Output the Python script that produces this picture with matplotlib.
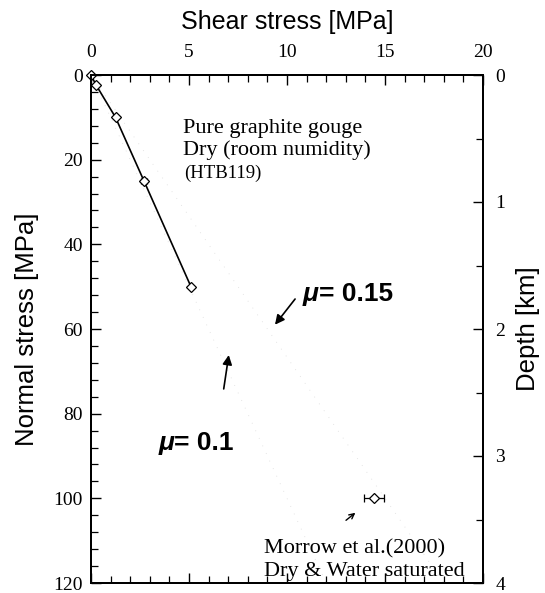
import matplotlib
matplotlib.use("Agg")
import matplotlib.pyplot as plt
from matplotlib.ticker import MultipleLocator

# Data
shear_htb = [0.0, 0.25, 1.25, 2.7, 5.1]
normal_htb = [0.0, 2.3, 10.0, 25.0, 50.0]
shear_err_htb = [0.0, 0.0, 0.0, 0.15, 0.0]

morrow_shear = [14.45]
morrow_normal = [100.0]
morrow_err = [0.5]

mu_values = [0.1, 0.15]
normal_line = [0.0, 120.0]

W, H = 545, 593
fig = plt.figure(figsize=(W / 100, H / 100), dpi=100)
ax = fig.add_axes([91 / W, 1 - 583 / H, (483 - 91) / W, (583 - 75) / H])

serif = "Liberation Serif"
sans = "Liberation Sans"

# faint friction lines
for mu in mu_values:
    ax.plot([mu * s for s in normal_line], normal_line, linestyle=(0, (1, 9)),
            color="#dcdcdc", linewidth=0.6, zorder=1)

ax.errorbar(shear_htb, normal_htb, xerr=shear_err_htb, color="black", linewidth=1.2,
            marker="D", markersize=5, markerfacecolor="white", markeredgecolor="black",
            markeredgewidth=0.9, capsize=2, elinewidth=0.8, zorder=3, clip_on=False)
ax.errorbar(morrow_shear, morrow_normal, xerr=morrow_err, color="black", linestyle="none",
            marker="D", markersize=5, markerfacecolor="white", markeredgecolor="black",
            markeredgewidth=0.9, capsize=3, elinewidth=0.9, zorder=3)

ax.set_xlim(0, 20)
ax.set_ylim(120, 0)

ax.xaxis.set_major_locator(MultipleLocator(5))
ax.xaxis.set_minor_locator(MultipleLocator(1))
ax.yaxis.set_major_locator(MultipleLocator(20))
ax.yaxis.set_minor_locator(MultipleLocator(4))

ax.tick_params(axis="x", which="both", direction="in", top=True, bottom=True,
               labeltop=True, labelbottom=False)
ax.tick_params(axis="y", which="both", direction="in", left=True, right=False)
ax.tick_params(which="major", length=7, width=1.0, labelsize=14, pad=6)
ax.tick_params(axis="x", which="major", pad=10)
ax.tick_params(which="minor", length=5, width=0.9)
for lab in ax.get_xticklabels() + ax.get_yticklabels():
    lab.set_fontfamily(serif)

ax.set_xlabel("Shear stress [MPa]", fontsize=18, fontfamily=sans, labelpad=11)
ax.xaxis.set_label_position("top")
ax.set_ylabel("Normal stress [MPa]", fontsize=18.5, fontfamily=sans, labelpad=10)

for sp in ax.spines.values():
    sp.set_linewidth(1.4)

# Depth axis
ax2 = ax.twinx()
ax2.set_ylim(4, 0)
ax2.yaxis.set_major_locator(MultipleLocator(1))
ax2.yaxis.set_minor_locator(MultipleLocator(0.5))
ax2.tick_params(axis="y", which="both", direction="in")
ax2.tick_params(which="major", length=7, width=1.0, labelsize=14, pad=9)
ax2.tick_params(which="minor", length=5, width=0.9)
for lab in ax2.get_yticklabels():
    lab.set_fontfamily(serif)
ax2.set_ylabel("Depth [km]", fontsize=18.5, fontfamily=sans, labelpad=8)
for sp in ax2.spines.values():
    sp.set_linewidth(1.4)

# annotations
ax.text(4.7, 15.2, "Pure graphite gouge\nDry (room numidity)", fontsize=16,
        fontfamily=serif, va="center", ha="left", linespacing=1.2)
ax.text(4.75, 23.3, "(HTB119)", fontsize=13.5, fontfamily=serif, va="center", ha="left")


def mu_label(x, y, rest):
    t = ax.text(x, y, "\u03bc", fontsize=19, fontweight="bold", fontstyle="italic",
                fontfamily=sans, va="baseline", ha="left")
    ax.annotate(rest, xy=(1, 0), xycoords=t, va="bottom", ha="left",
                fontsize=19, fontweight="bold", fontfamily=sans,
                annotation_clip=False)


ax.annotate("", xy=(9.3, 59.5), xytext=(10.5, 52.4),
            arrowprops=dict(arrowstyle="-|>", color="black", lw=1.2, mutation_scale=14))
mu_label(10.8, 53.5, "= 0.15")

ax.annotate("", xy=(7.05, 65.5), xytext=(6.75, 74.8),
            arrowprops=dict(arrowstyle="-|>", color="black", lw=1.2, mutation_scale=14))
mu_label(3.45, 88.5, "= 0.1")

ax.annotate("", xy=(13.6, 103.0), xytext=(12.9, 105.6),
            arrowprops=dict(arrowstyle="->", color="black", lw=1.0, mutation_scale=9))
ax.text(8.85, 114.6, "Morrow et al.(2000)\nDry & Water saturated", fontsize=16,
        fontfamily=serif, va="center", ha="left", linespacing=1.2)

fig.savefig("out.png", dpi=100)
